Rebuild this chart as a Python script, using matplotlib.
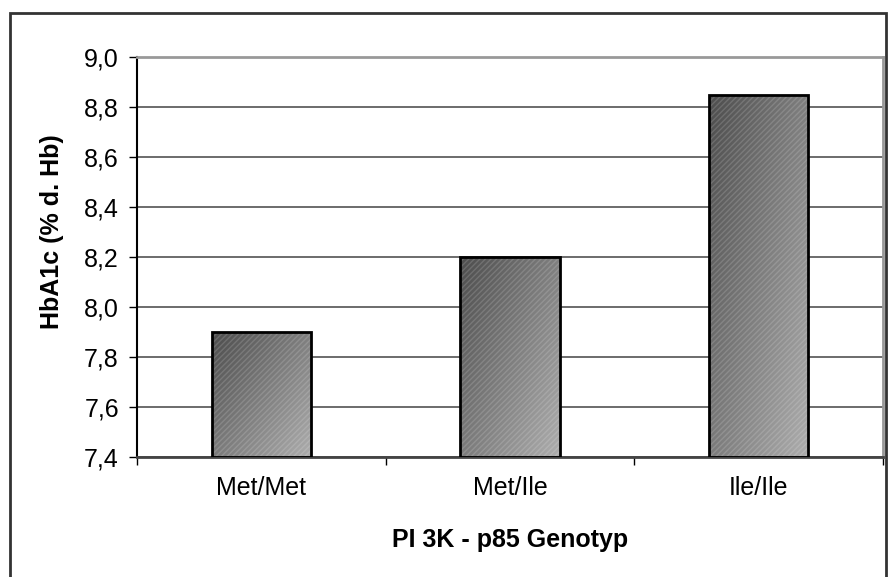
import matplotlib.pyplot as plt
import matplotlib.patches as patches
from matplotlib.ticker import FuncFormatter, FixedLocator
import numpy as np

plt.rcParams['font.family'] = ['Liberation Sans', 'DejaVu Sans']

genotypes = ['Met/Met', 'Met/Ile', 'Ile/Ile']
hba1c = [7.9, 8.2, 8.85]
y_ticks = [7.4, 7.6, 7.8, 8.0, 8.2, 8.4, 8.6, 8.8, 9.0]

W, H = 889, 577
fig = plt.figure(figsize=(W / 100, H / 100), dpi=100)
ax = fig.add_axes([137 / W, 120 / H, 746 / W, 400 / H])

# outer chart frame (bottom is cut off in the original)
frame = patches.Rectangle((10 / W, -0.05), 876 / W, (H - 13) / H + 0.05,
                          transform=fig.transFigure, fill=False,
                          edgecolor='#333333', linewidth=2, clip_on=False)
fig.patches.append(frame)

x = np.arange(len(genotypes))
bars = ax.bar(x, [v - 7.4 for v in hba1c], bottom=7.4, width=0.4,
              facecolor='none', edgecolor='black', linewidth=2, zorder=3)

# gradient fill: dark top-left to light bottom-right
gy, gx = np.mgrid[0:1:200j, 0:1:200j]
grad = 0.30 + 0.20 * gx + 0.18 * gy
for b in bars:
    x0, y0 = b.get_x(), b.get_y()
    w, h = b.get_width(), b.get_height()
    im = ax.imshow(grad, cmap='gray', vmin=0, vmax=1, aspect='auto',
                   extent=(x0, x0 + w, y0, y0 + h), origin='upper', zorder=2,
                   interpolation='bilinear')
    im.set_clip_path(b)
    ax.add_patch(patches.Rectangle((x0, y0), w, h, facecolor='none',
                                   hatch='//////', edgecolor=(1, 1, 1, 0.15),
                                   linewidth=0, zorder=2.5))

ax.set_xlim(-0.5, 2.5)
ax.set_ylim(7.4, 9.0)
ax.set_yticks(y_ticks)
ax.yaxis.set_major_formatter(FuncFormatter(lambda v, p: f'{v:.1f}'.replace('.', ',')))
ax.yaxis.grid(True, color='#444444', linewidth=1.1, zorder=1)
ax.set_axisbelow(True)

ax.set_xticks(x)
ax.set_xticklabels(genotypes)
ax.xaxis.set_minor_locator(FixedLocator([-0.5, 0.5, 1.5, 2.5]))
ax.tick_params(axis='x', which='major', length=0, pad=14, labelsize=18)
ax.tick_params(axis='x', which='minor', length=6, width=1, color='black')
ax.tick_params(axis='y', length=6, width=1, labelsize=18, pad=7)

ax.spines['left'].set_color('black')
ax.spines['left'].set_linewidth(1.5)
ax.spines['bottom'].set_color('#444444')
ax.spines['bottom'].set_linewidth(2)
ax.spines['top'].set_color('#999999')
ax.spines['top'].set_linewidth(2)
ax.spines['right'].set_color('#999999')
ax.spines['right'].set_linewidth(2)

fig.text(52 / W, (H - 232) / H, 'HbA1c (% d. Hb)', rotation=90,
         ha='center', va='center', fontsize=18, fontweight='bold')
fig.text(510 / W, (H - 547) / H, 'PI 3K - p85 Genotyp',
         ha='center', va='baseline', fontsize=18, fontweight='bold')

fig.savefig('out.png', dpi=100)
